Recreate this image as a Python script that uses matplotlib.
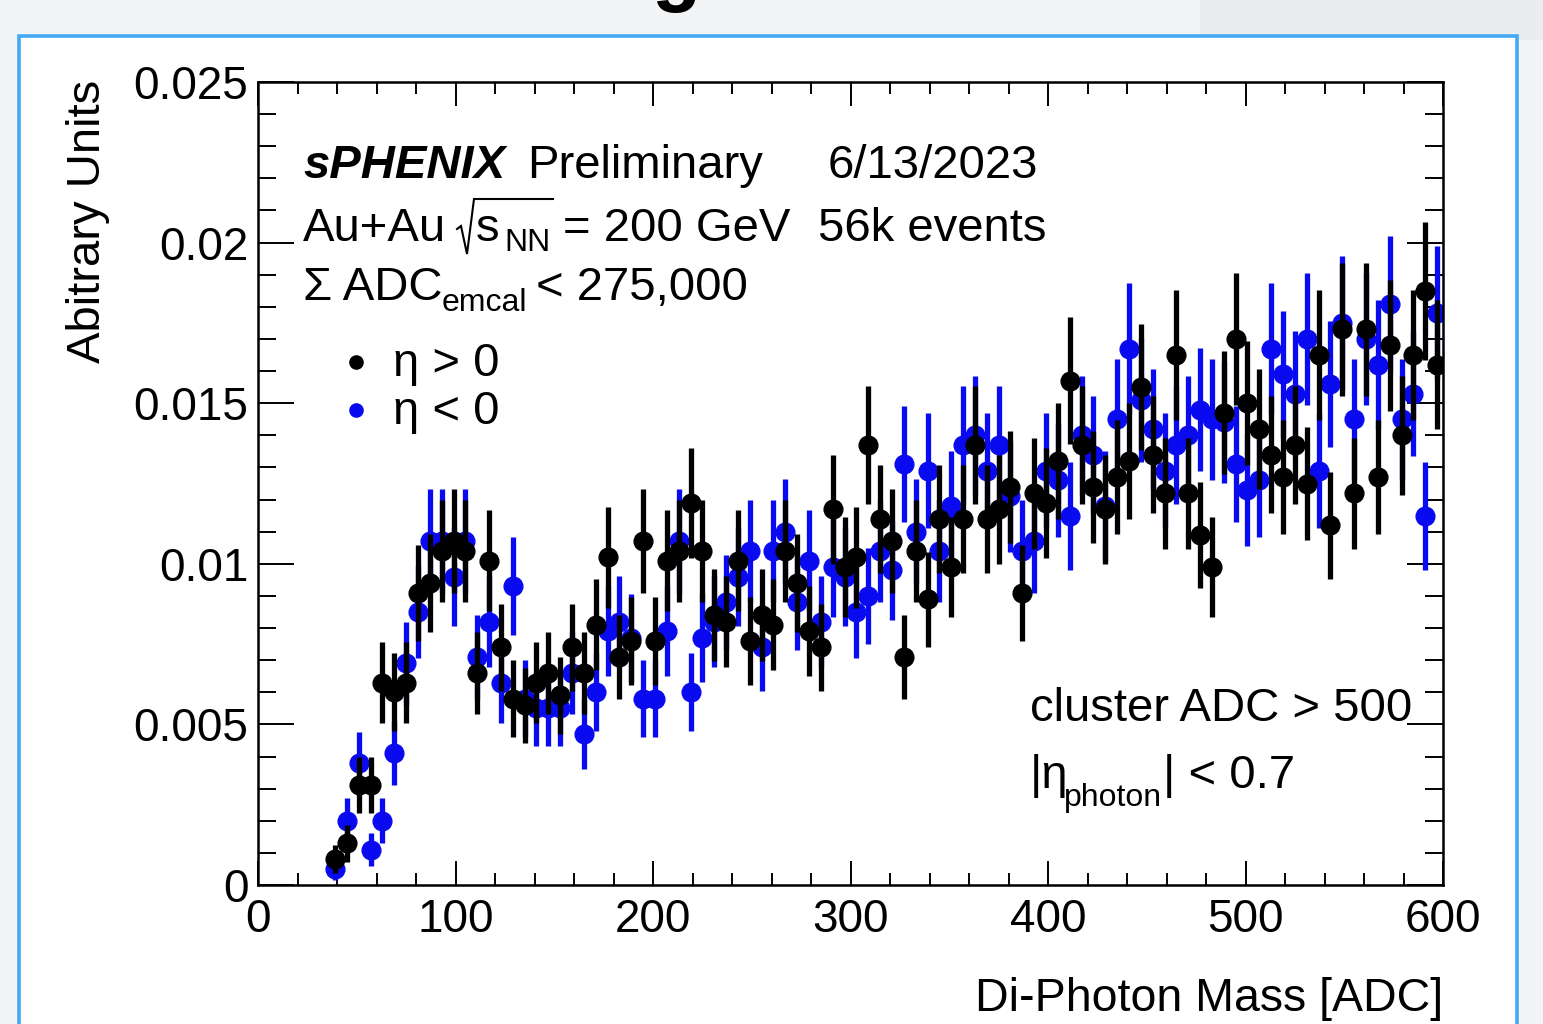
import matplotlib
matplotlib.use("Agg")
import matplotlib.pyplot as plt
from matplotlib.patches import Rectangle
from matplotlib.lines import Line2D
from matplotlib.ticker import MultipleLocator

plt.rcParams['font.family'] = ['Liberation Sans', 'DejaVu Sans']
plt.rcParams['mathtext.fontset'] = 'custom'
plt.rcParams['mathtext.rm'] = 'Liberation Sans'
plt.rcParams['mathtext.it'] = 'Liberation Sans:italic'
plt.rcParams['mathtext.bf'] = 'Liberation Sans:bold'

# ---------------- data ----------------
mass = list(range(39, 598, 6))  # bin centres (bin width 6 ADC)

eta_pos = [0.0008, 0.0013, 0.0031, 0.0031, 0.0063, 0.0060, 0.0063, 0.0091, 0.0094, 0.0104,
           0.0107, 0.0104, 0.0066, 0.0101, 0.0074, 0.0058, 0.0056, 0.0063, 0.0066, 0.0059,
           0.0074, 0.0066, 0.0081, 0.0102, 0.0071, 0.0076, 0.0107, 0.0076, 0.0101, 0.0104,
           0.0119, 0.0104, 0.0084, 0.0082, 0.0101, 0.0076, 0.0084, 0.0081, 0.0104, 0.0094,
           0.0079, 0.0074, 0.0117, 0.0099, 0.0102, 0.0137, 0.0114, 0.0107, 0.0071, 0.0104,
           0.0089, 0.0114, 0.0099, 0.0114, 0.0137, 0.0114, 0.0117, 0.0124, 0.0091, 0.0122,
           0.0119, 0.0132, 0.0157, 0.0137, 0.0124, 0.0117, 0.0127, 0.0132, 0.0155, 0.0134,
           0.0122, 0.0165, 0.0122, 0.0109, 0.0099, 0.0147, 0.0170, 0.0150, 0.0142, 0.0134,
           0.0127, 0.0137, 0.0125, 0.0165, 0.0112, 0.0173, 0.0122, 0.0173, 0.0127, 0.0168,
           0.0140, 0.0165, 0.0185, 0.0162]
eta_pos_err = [0.00044, 0.00057, 0.00087, 0.00087, 0.00125, 0.00122, 0.00125, 0.00150, 0.00152, 0.00160,
               0.00162, 0.00160, 0.00128, 0.00158, 0.00135, 0.00120, 0.00117, 0.00125, 0.00128, 0.00121,
               0.00135, 0.00128, 0.00142, 0.00158, 0.00132, 0.00137, 0.00162, 0.00137, 0.00158, 0.00160,
               0.00171, 0.00160, 0.00144, 0.00142, 0.00158, 0.00137, 0.00144, 0.00142, 0.00160, 0.00152,
               0.00140, 0.00135, 0.00170, 0.00156, 0.00158, 0.00184, 0.00168, 0.00162, 0.00132, 0.00160,
               0.00148, 0.00168, 0.00156, 0.00168, 0.00184, 0.00168, 0.00170, 0.00175, 0.00150, 0.00173,
               0.00171, 0.00180, 0.00197, 0.00184, 0.00175, 0.00170, 0.00177, 0.00180, 0.00196, 0.00182,
               0.00173, 0.00202, 0.00173, 0.00164, 0.00156, 0.00191, 0.00205, 0.00193, 0.00187, 0.00182,
               0.00177, 0.00184, 0.00175, 0.00202, 0.00166, 0.00207, 0.00173, 0.00207, 0.00177, 0.00203,
               0.00186, 0.00202, 0.00214, 0.00200]

eta_neg = [0.0005, 0.0020, 0.0038, 0.0011, 0.0020, 0.0041, 0.0069, 0.0085, 0.0107, 0.0107,
           0.0096, 0.0107, 0.0071, 0.0082, 0.0063, 0.0093, 0.0058, 0.0055, 0.0055, 0.0055,
           0.0066, 0.0047, 0.0060, 0.0079, 0.0082, 0.0077, 0.0058, 0.0058, 0.0079, 0.0107,
           0.0060, 0.0077, 0.0082, 0.0088, 0.0096, 0.0104, 0.0074, 0.0104, 0.0110, 0.0088,
           0.0101, 0.0082, 0.0099, 0.0096, 0.0085, 0.0090, 0.0104, 0.0098, 0.0131, 0.0110,
           0.0129, 0.0104, 0.0118, 0.0137, 0.0140, 0.0129, 0.0137, 0.0121, 0.0104, 0.0107,
           0.0129, 0.0126, 0.0115, 0.0140, 0.0134, 0.0118, 0.0145, 0.0167, 0.0151, 0.0142,
           0.0129, 0.0137, 0.0140, 0.0148, 0.0145, 0.0144, 0.0131, 0.0123, 0.0126, 0.0167,
           0.0159, 0.0153, 0.0170, 0.0129, 0.0156, 0.0175, 0.0145, 0.0170, 0.0162, 0.0181,
           0.0145, 0.0153, 0.0115, 0.0178]
eta_neg_err = [0.00035, 0.00070, 0.00097, 0.00052, 0.00070, 0.00100, 0.00130, 0.00144, 0.00162, 0.00162,
               0.00154, 0.00162, 0.00132, 0.00142, 0.00125, 0.00152, 0.00120, 0.00116, 0.00116, 0.00116,
               0.00128, 0.00108, 0.00122, 0.00140, 0.00142, 0.00137, 0.00120, 0.00120, 0.00140, 0.00162,
               0.00122, 0.00137, 0.00142, 0.00148, 0.00154, 0.00160, 0.00135, 0.00160, 0.00164, 0.00148,
               0.00158, 0.00142, 0.00156, 0.00154, 0.00144, 0.00150, 0.00160, 0.00156, 0.00180, 0.00164,
               0.00178, 0.00160, 0.00170, 0.00184, 0.00186, 0.00178, 0.00184, 0.00173, 0.00160, 0.00162,
               0.00178, 0.00177, 0.00168, 0.00186, 0.00182, 0.00170, 0.00189, 0.00203, 0.00193, 0.00187,
               0.00178, 0.00184, 0.00186, 0.00191, 0.00189, 0.00189, 0.00180, 0.00175, 0.00177, 0.00203,
               0.00198, 0.00194, 0.00205, 0.00178, 0.00196, 0.00208, 0.00189, 0.00205, 0.00200, 0.00211,
               0.00189, 0.00194, 0.00168, 0.00209]

series_labels = ["η > 0", "η < 0"]
x_ticks = [0, 100, 200, 300, 400, 500, 600]
y_ticks = [0, 0.005, 0.01, 0.015, 0.02, 0.025]
y_tick_labels = ["0", "0.005", "0.01", "0.015", "0.02", "0.025"]

# ---------------- figure ----------------
W, H = 1543, 1024
fig = plt.figure(figsize=(W / 100, H / 100), dpi=100)
fig.patch.set_facecolor('#f2f4f5')

def fx(px):
    return px / W

def fy(py):
    return 1 - py / H

# slightly darker background block on the upper right (slide background)
fig.patches.append(Rectangle((fx(1200), fy(40)), fx(1543) - fx(1200), fy(0) - fy(40),
                             transform=fig.transFigure, facecolor='#eaecef',
                             edgecolor='none', zorder=-20))
# white panel with light-blue border (behind everything else)
panel = Rectangle((fx(19), fy(1030)), fx(1517) - fx(19), fy(36) - fy(1030),
                  transform=fig.transFigure, facecolor='white', edgecolor='#45aaf2',
                  linewidth=2.6, zorder=-10)
fig.patches.append(panel)

# bottom of the slide title glyph peeking in at the top edge
fig.text(fx(652), fy(-4), "g", fontsize=58, fontweight='bold', va='baseline', ha='left')

ax = fig.add_axes([fx(258), fy(885), fx(1443) - fx(258), fy(82) - fy(885)])
ax.set_zorder(1)
ax.set_facecolor('white')

BLUE = '#0a0af0'
ax.errorbar(mass, eta_neg, yerr=eta_neg_err, fmt='o', color=BLUE, ecolor=BLUE,
            markersize=13.5, elinewidth=3.8, capsize=0, zorder=3)
ax.errorbar(mass, eta_pos, yerr=eta_pos_err, fmt='o', color='black', ecolor='black',
            markersize=13.5, elinewidth=3.8, capsize=0, zorder=4)

ax.set_xlim(0, 600)
ax.set_ylim(0, 0.025)
ax.set_xticks(x_ticks)
ax.set_xticklabels([str(t) for t in x_ticks])
ax.set_yticks(y_ticks)
ax.set_yticklabels(y_tick_labels)
ax.xaxis.set_minor_locator(MultipleLocator(20))
ax.yaxis.set_minor_locator(MultipleLocator(0.001))

for sp in ax.spines.values():
    sp.set_linewidth(1.8)
    sp.set_zorder(5)
ax.tick_params(which='both', direction='in', top=True, right=True, width=1.4, colors='black')
ax.tick_params(axis='x', which='major', length=17, pad=9, labelsize=33)
ax.tick_params(axis='x', which='minor', length=8.5)
ax.tick_params(axis='y', which='major', length=26, pad=7, labelsize=33)
ax.tick_params(axis='y', which='minor', length=13)

# axis titles
fig.text(fx(88), fy(80), "Abitrary Units", rotation=90, ha='center', va='top', fontsize=34, zorder=5)
fig.text(fx(1443), fy(999), "Di-Photon Mass [ADC]", ha='right', va='center', fontsize=33.5, zorder=5)

# annotations
FS = 34
SUB = 23
kw = dict(fontsize=FS, va='baseline', zorder=5)
skw = dict(fontsize=SUB, va='baseline', zorder=5)
fig.text(fx(303), fy(178), "sPHENIX", fontweight='bold', fontstyle='italic', **kw)
fig.text(fx(527), fy(178), "Preliminary", **kw)
fig.text(fx(828), fy(178), "6/13/2023", **kw)

# Au+Au sqrt(s_NN) = 200 GeV line (radical sign drawn as a stroke)
fig.text(fx(303), fy(241), "Au+Au", **kw)
rad_x = [457, 461, 467, 474, 553]
rad_y = [229, 226, 254, 199, 199]
fig.add_artist(Line2D([fx(v) for v in rad_x], [fy(v) for v in rad_y], color='black',
                      linewidth=1.5, solid_joinstyle='miter', transform=fig.transFigure, zorder=5))
fig.text(fx(476), fy(241), "s", **kw)
fig.text(fx(504), fy(251), "NN", **skw)
fig.text(fx(563), fy(241), "= 200 GeV", **kw)
fig.text(fx(818), fy(241), "56k events", **kw)

# Sigma ADC_emcal line
fig.text(fx(303), fy(300), "Σ ADC", **kw)
fig.text(fx(442), fy(311), "emcal", **skw)
fig.text(fx(536), fy(300), "< 275,000", **kw)

# cuts
fig.text(fx(1030), fy(721), "cluster ADC > 500", **kw)
fig.text(fx(1030), fy(788), "|η", **kw)
fig.text(fx(1064), fy(806), "photon", **skw)
fig.text(fx(1163), fy(788), "| < 0.7", **kw)

# legend
fig.add_artist(Line2D([fx(356)], [fy(362)], marker='o', color='black', markersize=9.5,
                      linestyle='none', transform=fig.transFigure, zorder=5))
fig.add_artist(Line2D([fx(356)], [fy(410)], marker='o', color=BLUE, markersize=9.5,
                      linestyle='none', transform=fig.transFigure, zorder=5))
fig.text(fx(393), fy(376), series_labels[0], **kw)
fig.text(fx(393), fy(424), series_labels[1], **kw)

fig.savefig("out.png", dpi=100, facecolor=fig.get_facecolor())
